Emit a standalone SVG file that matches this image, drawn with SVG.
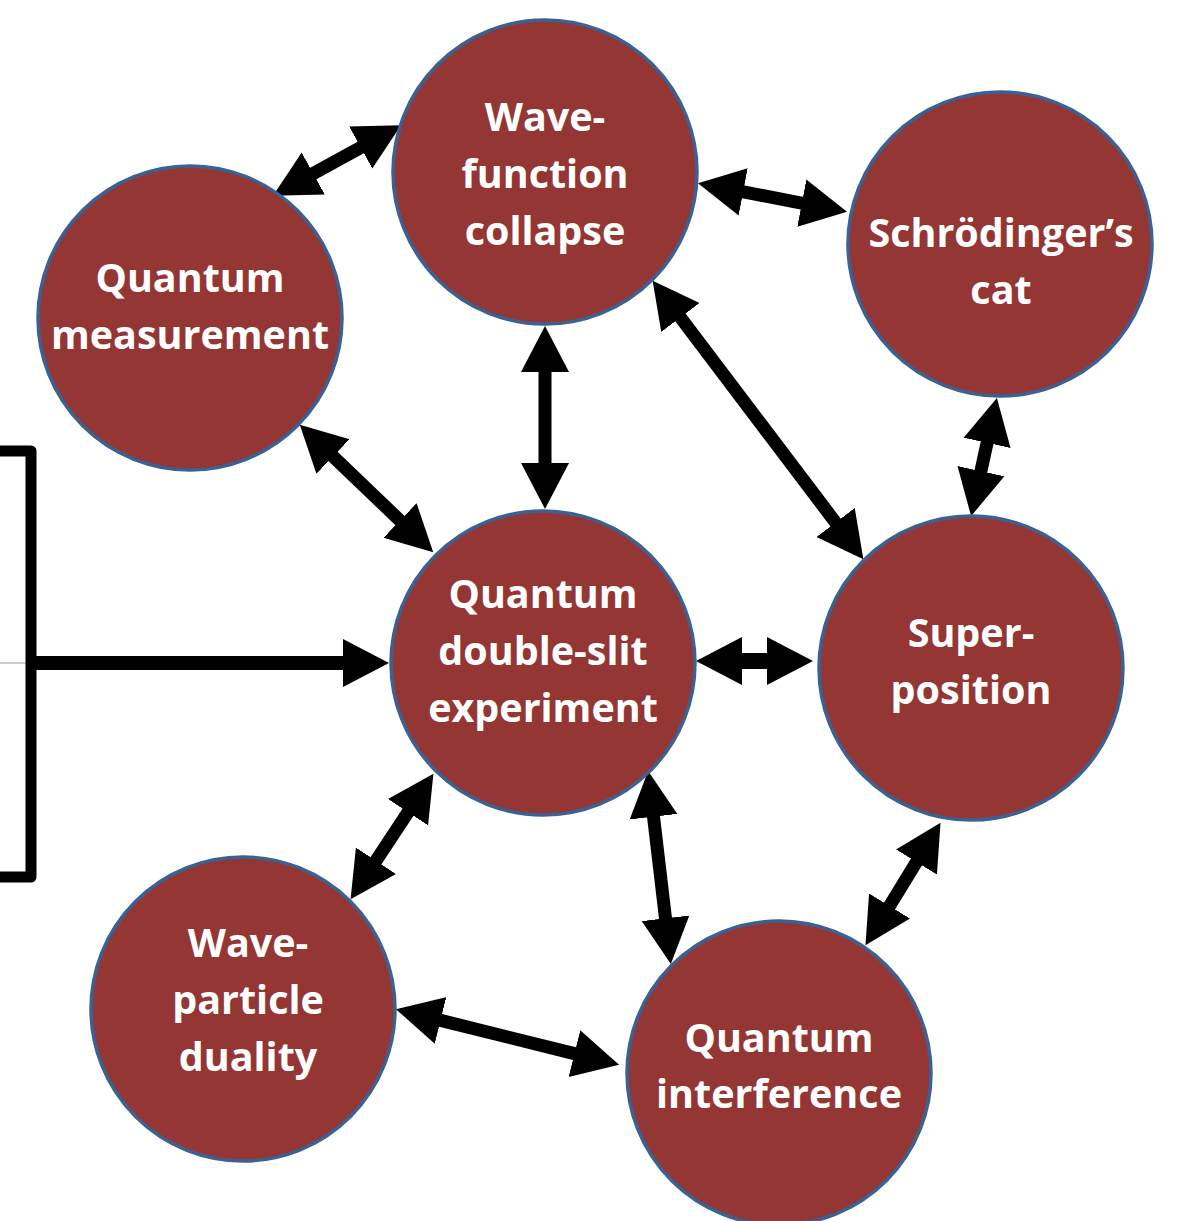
<svg xmlns="http://www.w3.org/2000/svg" width="1182" height="1221" viewBox="0 0 1182 1221">
<style>
.node circle{fill:#943634;stroke:#3b6193;stroke-width:3.5}
.node text{font-family:"Open Sans","Liberation Sans",sans-serif;font-weight:bold;font-size:39.5px;fill:#fff;text-anchor:middle}
.conn line{stroke:#000;stroke-width:13;fill:none}
.bracket{stroke:#000;stroke-width:11;fill:none;stroke-linejoin:round}
</style>
<defs>
<marker id="ah" markerUnits="userSpaceOnUse" viewBox="0 -25 48 50" markerWidth="48" markerHeight="50" refX="1" refY="0" orient="auto-start-reverse">
<path d="M0,-24 L46,0 L0,24 z" fill="#000"/>
</marker>
</defs>
<rect width="1182" height="1221" fill="#fff"/>
<g id="connectors" class="conn">
<line x1="0" y1="663" x2="26" y2="663" style="stroke:#999;stroke-width:1"/>
<path class="bracket" d="M0,451 H31 V877 H0"/>
<line x1="31" y1="663" x2="344" y2="663" marker-end="url(#ah)" style="stroke-width:14"/>
<line x1="312.4" y1="174" x2="361.6" y2="147" marker-start="url(#ah)" marker-end="url(#ah)"/>
<line x1="742.2" y1="191.7" x2="802.8" y2="203.3" marker-start="url(#ah)" marker-end="url(#ah)"/>
<line x1="545" y1="371" x2="545" y2="464" marker-start="url(#ah)" marker-end="url(#ah)"/>
<line x1="679.8" y1="316.7" x2="836.2" y2="523.3" marker-start="url(#ah)" marker-end="url(#ah)"/>
<line x1="987.3" y1="441.9" x2="980.7" y2="472.1" marker-start="url(#ah)" marker-end="url(#ah)"/>
<line x1="332.3" y1="455.8" x2="400.7" y2="521.2" marker-start="url(#ah)" marker-end="url(#ah)"/>
<line x1="741" y1="661" x2="768" y2="661" marker-start="url(#ah)" marker-end="url(#ah)" style="stroke-width:16"/>
<line x1="408.6" y1="811.4" x2="375.4" y2="861.6" marker-start="url(#ah)" marker-end="url(#ah)"/>
<line x1="653.4" y1="815.7" x2="665.6" y2="919.3" marker-start="url(#ah)" marker-end="url(#ah)"/>
<line x1="917" y1="861.2" x2="889" y2="906.8" marker-start="url(#ah)" marker-end="url(#ah)"/>
<line x1="439.6" y1="1020.1" x2="575.4" y2="1053.9" marker-start="url(#ah)" marker-end="url(#ah)"/>
</g>
<g id="wavefunction-collapse" class="node">
<circle cx="545" cy="172" r="152"/>
<text x="545" y="131">Wave-</text><text x="545" y="188">function</text><text x="545" y="245">collapse</text>
</g>
<g id="schrodingers-cat" class="node">
<circle cx="1000" cy="244" r="152"/>
<text x="1001" y="247">Schrödinger’s</text><text x="1001" y="304">cat</text>
</g>
<g id="quantum-measurement" class="node">
<circle cx="190" cy="318" r="152"/>
<text x="190" y="292">Quantum</text><text x="190" y="349">measurement</text>
</g>
<g id="double-slit" class="node">
<circle cx="543" cy="663" r="152"/>
<text x="543" y="608">Quantum</text><text x="543" y="665">double-slit</text><text x="543" y="722">experiment</text>
</g>
<g id="superposition" class="node">
<circle cx="971" cy="668" r="152"/>
<text x="971" y="647">Super-</text><text x="971" y="704">position</text>
</g>
<g id="wave-particle-duality" class="node">
<circle cx="243" cy="1009" r="152"/>
<text x="248" y="957">Wave-</text><text x="248" y="1014">particle</text><text x="248" y="1071">duality</text>
</g>
<g id="quantum-interference" class="node">
<circle cx="779" cy="1073" r="152"/>
<text x="779" y="1052">Quantum</text><text x="779" y="1108">interference</text>
</g>
</svg>
